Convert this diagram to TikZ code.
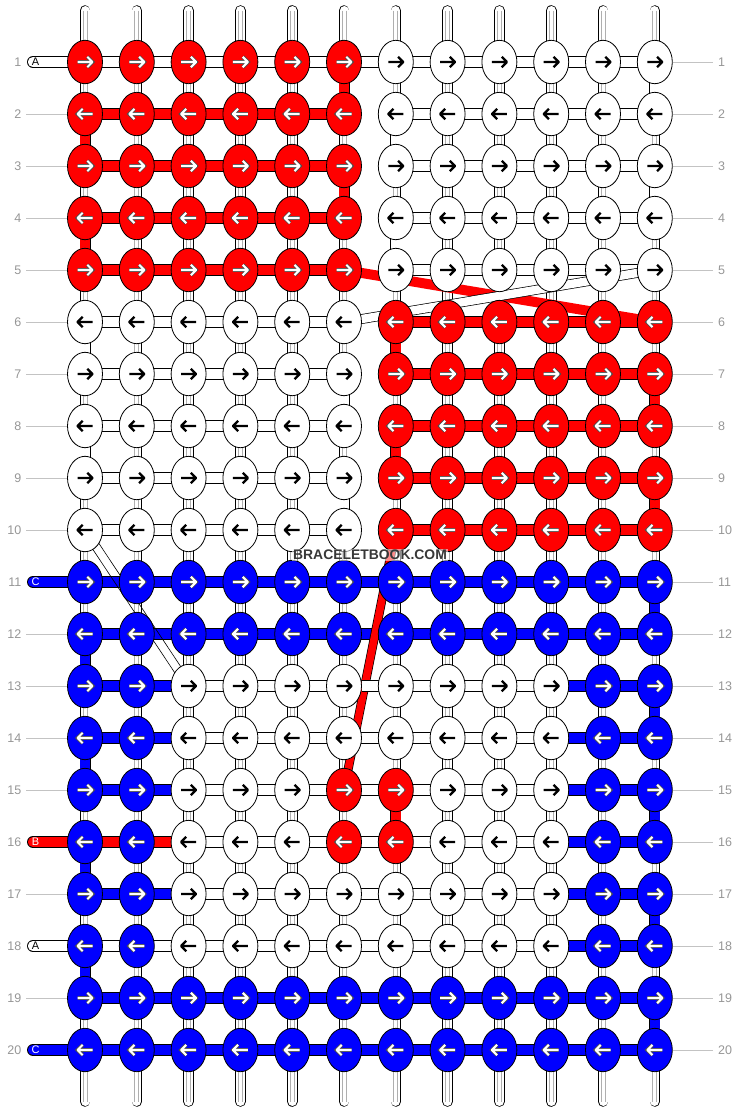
\documentclass[tikz,border=0pt]{standalone}
\usepackage{fontspec}
\setmainfont{Liberation Sans}
\usetikzlibrary{shapes.geometric}
\definecolor{kred}{RGB}{255,0,0}
\definecolor{kblue}{RGB}{0,0,255}
\definecolor{lblgray}{RGB}{150,150,150}
\definecolor{lngray}{RGB}{195,195,195}
\definecolor{stripegray}{RGB}{175,175,175}
\colorlet{cR}{kred}
\colorlet{cW}{white}
\colorlet{cB}{kblue}
\pgfdeclarelayer{strands}
\pgfdeclarelayer{turns}
\pgfdeclarelayer{bars}
\pgfdeclarelayer{diag}
\pgfdeclarelayer{over}
\pgfsetlayers{strands,turns,bars,diag,over,main}
\newcommand\knotrow[2]{%
  \foreach \k [count=\c] in {#2} {%
    \node[knot, fill=c\k] (k-#1-\c) at ({85+51.8*(\c-1)},{62+52*(#1-1)}) {};
    \pgfmathsetmacro\d{ifthenelse(mod(#1,2)==1,1,-1)}
    \draw[arr\k] (k-#1-\c.center) ++(-7.5*\d,0) -- ++(15*\d,0) ++(-5.2*\d,-5.2) -- ++(5.2*\d,5.2) -- ++(-5.2*\d,5.2);
  }}
\newcommand\barrow[2]{%
  \foreach \k [count=\c] in {#2} {%
    \pgfmathtruncatemacro\cn{\c+1}
    \path[hbar\k] (k-#1-\c.center) -- (k-#1-\cn.center);
  }}
\begin{document}
\begin{tikzpicture}[x=1pt,y=-1pt,
  knot/.style={ellipse, draw=black, line width=0.8pt, minimum width=35pt, minimum height=43.4pt, inner sep=0pt},
  hbarR/.style={draw=black, line width=0.8pt, double=kred, double distance=10.4pt},
  hbarW/.style={draw=black, line width=0.8pt, double=white, double distance=10.4pt},
  hbarB/.style={draw=black, line width=0.8pt, double=kblue, double distance=10.4pt},
  hbarN/.style={},
  vturnR/.style={draw=black, line width=0.8pt, double=kred, double distance=9.4pt},
  vturnW/.style={draw=black, line width=0.8pt, double=white, double distance=9.4pt},
  vturnB/.style={draw=black, line width=0.8pt, double=kblue, double distance=9.4pt},
  vstrand/.style={draw=black, line width=0.8pt, double=white, double distance=9pt, line cap=round},
  stripe/.style={draw=stripegray, line width=0.7pt},
  arrW/.style={draw=black, line width=2.3pt, line join=round},
  arrR/.style={draw=white, line width=2.1pt, line join=round, preaction={draw=black!70, line width=3.7pt}},
  arrB/.style={arrR},
  lnum/.style={text=lblgray, font=\fontsize{12.5}{13}\selectfont, inner sep=0pt},
  lline/.style={draw=lngray, line width=0.8pt},
  elabW/.style={text=black, font=\fontsize{11}{12}\selectfont, inner sep=0pt},
  elabR/.style={text=white, font=\fontsize{11}{12}\selectfont, inner sep=0pt},
  elabB/.style={elabR},
]
\useasboundingbox (0,0) rectangle (740,1112);
% knots
\knotrow{1}{R,R,R,R,R,R,W,W,W,W,W,W}
\knotrow{2}{R,R,R,R,R,R,W,W,W,W,W,W}
\knotrow{3}{R,R,R,R,R,R,W,W,W,W,W,W}
\knotrow{4}{R,R,R,R,R,R,W,W,W,W,W,W}
\knotrow{5}{R,R,R,R,R,R,W,W,W,W,W,W}
\knotrow{6}{W,W,W,W,W,W,R,R,R,R,R,R}
\knotrow{7}{W,W,W,W,W,W,R,R,R,R,R,R}
\knotrow{8}{W,W,W,W,W,W,R,R,R,R,R,R}
\knotrow{9}{W,W,W,W,W,W,R,R,R,R,R,R}
\knotrow{10}{W,W,W,W,W,W,R,R,R,R,R,R}
\knotrow{11}{B,B,B,B,B,B,B,B,B,B,B,B}
\knotrow{12}{B,B,B,B,B,B,B,B,B,B,B,B}
\knotrow{13}{B,B,W,W,W,W,W,W,W,W,B,B}
\knotrow{14}{B,B,W,W,W,W,W,W,W,W,B,B}
\knotrow{15}{B,B,W,W,W,R,R,W,W,W,B,B}
\knotrow{16}{B,B,W,W,W,R,R,W,W,W,B,B}
\knotrow{17}{B,B,W,W,W,W,W,W,W,W,B,B}
\knotrow{18}{B,B,W,W,W,W,W,W,W,W,B,B}
\knotrow{19}{B,B,B,B,B,B,B,B,B,B,B,B}
\knotrow{20}{B,B,B,B,B,B,B,B,B,B,B,B}
% vertical strands
\begin{pgfonlayer}{strands}
\foreach \c in {1,...,12} {
  \coordinate (st-\c) at ({85+51.8*(\c-1)},10.5);
  \coordinate (sb-\c) at ({85+51.8*(\c-1)},1101.5);
  \path[vstrand] (st-\c) -- (sb-\c);
  \draw[stripe] ([xshift=-2pt]st-\c) -- ([xshift=-2pt]sb-\c);
  \draw[stripe] ([xshift=2pt]st-\c) -- ([xshift=2pt]sb-\c);
}
\end{pgfonlayer}
% turns of the working strings
\begin{pgfonlayer}{turns}
\foreach \r/\c/\k in {1/6/R,2/1/R,3/6/R,4/1/R,6/7/R,7/12/R,8/7/R,9/12/R,15/7/R,
  1/12/W,2/7/W,3/12/W,4/7/W,6/1/W,7/6/W,8/1/W,9/6/W,
  11/12/B,12/1/B,13/12/B,14/1/B,15/12/B,16/1/B,17/12/B,18/1/B,19/12/B} {
  \pgfmathtruncatemacro\rn{\r+1}
  \path[vturn\k] (k-\r-\c.center) -- (k-\rn-\c.center);
}
\end{pgfonlayer}
% horizontal bars
\begin{pgfonlayer}{bars}
\barrow{1}{W,W,W,W,W,W,W,W,W,W,W}
\barrow{2}{R,R,R,R,R,N,W,W,W,W,W}
\barrow{3}{R,R,R,R,R,N,W,W,W,W,W}
\barrow{4}{R,R,R,R,R,N,W,W,W,W,W}
\barrow{5}{R,R,R,R,R,N,W,W,W,W,W}
\barrow{6}{W,W,W,W,W,N,R,R,R,R,R}
\barrow{7}{W,W,W,W,W,N,R,R,R,R,R}
\barrow{8}{W,W,W,W,W,N,R,R,R,R,R}
\barrow{9}{W,W,W,W,W,N,R,R,R,R,R}
\barrow{10}{W,W,W,W,W,N,R,R,R,R,R}
\barrow{11}{B,B,B,B,B,B,B,B,B,B,B}
\barrow{12}{B,B,B,B,B,B,B,B,B,B,B}
\barrow{13}{B,B,W,W,W,W,W,W,W,B,B}
\barrow{14}{B,B,W,W,W,W,W,W,W,B,B}
\barrow{15}{B,B,W,W,W,W,W,W,W,B,B}
\barrow{16}{R,R,W,W,W,W,W,W,W,B,B}
\barrow{17}{B,B,W,W,W,W,W,W,W,B,B}
\barrow{18}{W,W,W,W,W,W,W,W,W,B,B}
\barrow{19}{B,B,B,B,B,B,B,B,B,B,B}
\barrow{20}{B,B,B,B,B,B,B,B,B,B,B}
% entering strings
\foreach \r/\k/\t in {1/W/A,11/B/C,16/R/B,18/W/A,20/B/C} {
  \coordinate (e-\r) at (33,{62+52*(\r-1)});
  \path[hbar\k, line cap=round] (e-\r) -- (k-\r-1.center);
}
\end{pgfonlayer}
% diagonal strings
\begin{pgfonlayer}{diag}
\draw[kred, line width=10pt] (k-5-6.center) -- (k-6-12.center);
\path[draw=black, line width=0.7pt, double=white, double distance=8.4pt] (k-5-12.center) -- (k-6-6.center);
\draw[black, line width=0.6pt] ([shift={(3.5,-2.3)}]k-10-1.center) -- ([shift={(3.5,-2.3)}]k-13-3.center);
\draw[black, line width=0.6pt] ([shift={(-3.5,2.3)}]k-10-1.center) -- ([shift={(-3.5,2.3)}]k-13-3.center);
\path[draw=black, line width=0.7pt, double=kred, double distance=7.6pt] (k-10-7.center) -- (k-15-6.center);
\end{pgfonlayer}
\begin{pgfonlayer}{over}
\path[hbarW] (k-13-6.east) -- (k-13-7.west);
\end{pgfonlayer}
% entering string letters
\foreach \r/\k/\t in {1/W/A,11/B/C,16/R/B,18/W/A,20/B/C} {
  \node[elab\k] (el-\r) at (35.5,{62+52*(\r-1)}) {\t};
}
% row numbers
\foreach \r in {1,...,20} {
  \node[lnum, anchor=east] (ln-\r) at (21.5,{62+52*(\r-1)}) {\r};
  \node[lnum, anchor=west] (rn-\r) at (718,{62+52*(\r-1)}) {\r};
  \coordinate (rl-\r) at (713,{62+52*(\r-1)});
  \draw[lline] (k-\r-12.east) -- (rl-\r);
}
\foreach \r in {2,...,10,12,13,14,15,17,19} {
  \coordinate (ll-\r) at (26,{62+52*(\r-1)});
  \draw[lline] (ll-\r) -- (k-\r-1.west);
}
% watermark
\node[font=\bfseries\fontsize{13.9}{14}\selectfont, text=black!78, fill=white, fill opacity=0.55, text opacity=1, inner sep=1pt] (wm) at (370,555) {BRACELETBOOK.COM};
\end{tikzpicture}
\end{document}
